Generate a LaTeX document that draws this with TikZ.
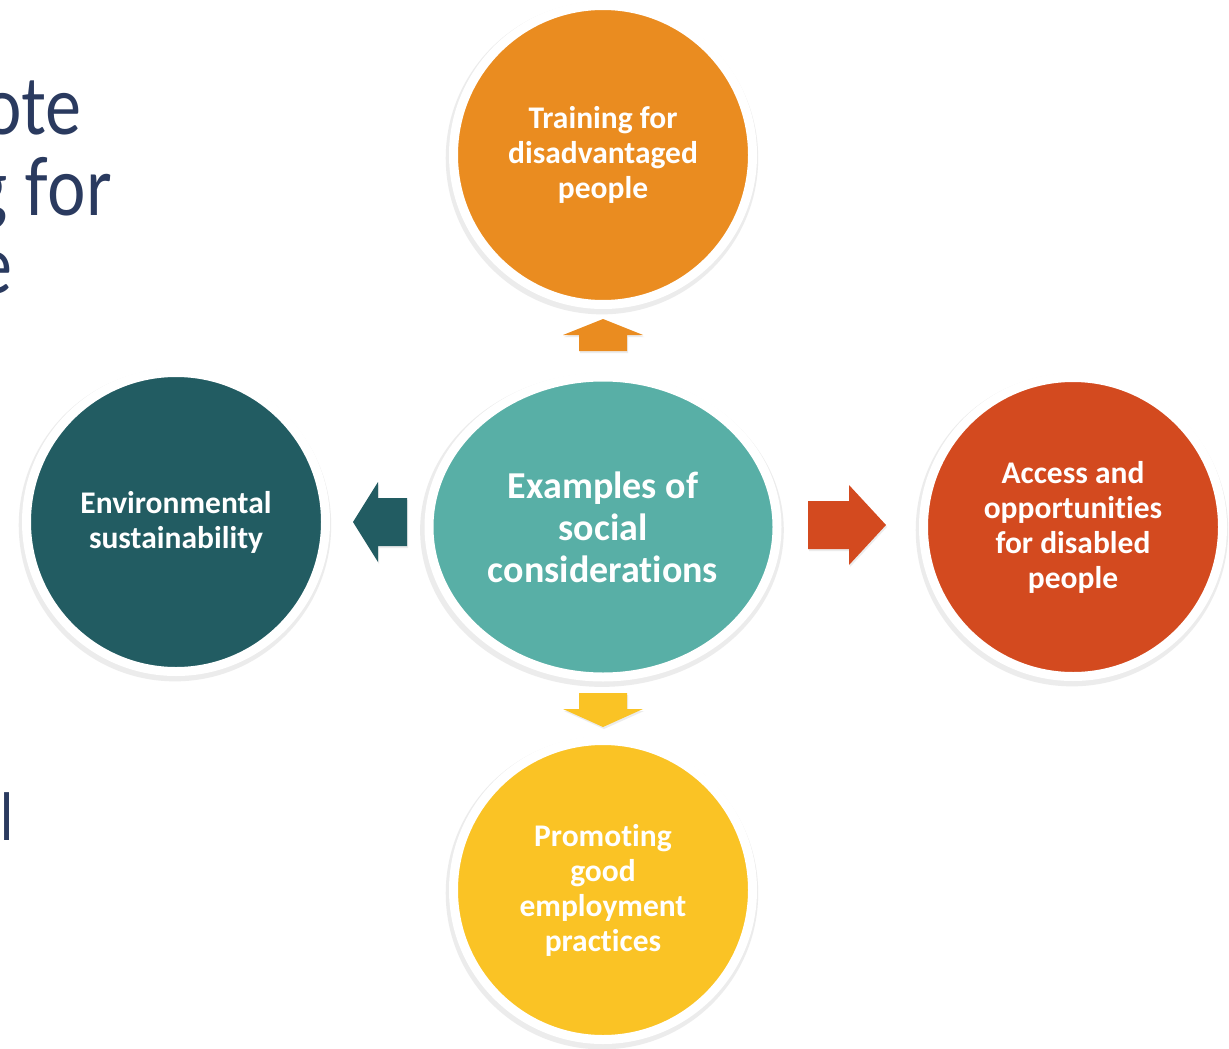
\documentclass[tikz,border=0pt]{standalone}
\usepackage{fontspec}
\usepackage{tikz}
\usetikzlibrary{calc,shapes,shadows}

\newfontfamily\bubblefont{Carlito}[Ligatures={NoCommon}]
\newfontfamily\slidefont{Lato}[FakeStretch=0.85]

\definecolor{trainOrange}{HTML}{EA8C20}
\definecolor{hubTeal}{HTML}{58AFA6}
\definecolor{envTeal}{HTML}{225C62}
\definecolor{accessRed}{HTML}{D34A1F}
\definecolor{goodYellow}{HTML}{FAC325}
\definecolor{slideNavy}{HTML}{2A3A5F}

\begin{document}
\begin{tikzpicture}[x=1pt,y=-1pt]

\tikzset{bubble/.style={circle, minimum size=299pt, inner sep=0pt, outer sep=0pt,
   draw=white, line width=9pt, fill=#1, text=white, align=center,
   font=\bubblefont\bfseries\fontsize{31.5}{35}\selectfont,
   drop shadow={fill=black!50, opacity=0.15, shadow scale=1.045, shadow xshift=-1pt, shadow yshift=-3pt}},
hubEllipse/.style={bubble=hubTeal, ellipse, minimum width=348pt, minimum height=300pt,
   font=\bubblefont\bfseries\fontsize{38}{42}\selectfont},
slideText/.style={inner sep=0pt, text=slideNavy, font=\slidefont\fontsize{80}{80}\selectfont}}

\useasboundingbox (0,0) rectangle (1229,1049);
\clip (0,0) rectangle (1229,1049);
\fill[white] (0,0) rectangle (1229,1049);

% title text cut off by the slide edge
\node[slideText, anchor=base east] (titleA) at (82,134) {ote};
\node[slideText, anchor=base east] (titleB) at (111,215) {g for};
\node[slideText, anchor=base east] (titleC) at (13,293) {e};
\node[slideText, anchor=base west, font=\slidefont\fontsize{65}{65}\selectfont] (bodyA) at (0,840) {l};

% the five discs
\node[hubEllipse] (examples) at (603,527) {Examples of\\social\\considerations};
\node[bubble=trainOrange] (training) at (603,155) {Training for\\disadvantaged\\people};
\node[bubble=envTeal] (environment) at (176,522) {Environmental\\sustainability};
\node[bubble=accessRed] (access) at (1073,527) {Access and\\opportunities\\for disabled\\people};
\node[bubble=goodYellow] (employment) at (603,890) {Promoting\\good\\employment\\practices};

% block arrows: name/x/y/angle/length/head/colour
\foreach \name/\px/\py/\ang/\len/\hd/\col in {toTraining/603/335/90/32/16/trainOrange,
   toEnvironment/380/522/180/54/25/envTeal, toAccess/847/525/0/78/37/accessRed,
   toEmployment/603/710/-90/34/18/goodYellow}
{
  \coordinate (\name) at (\px,\py);
  \fill[\col, shift={(\name)}, rotate=\ang, drop shadow={opacity=0.15, shadow xshift=1pt, shadow yshift=-2pt}]
     (-\len/2,-24) -- (\len/2-\hd,-24) -- (\len/2-\hd,-40) -- (\len/2,0)
     -- (\len/2-\hd,40) -- (\len/2-\hd,24) -- (-\len/2,24) -- cycle;
}

\end{tikzpicture}
\end{document}
